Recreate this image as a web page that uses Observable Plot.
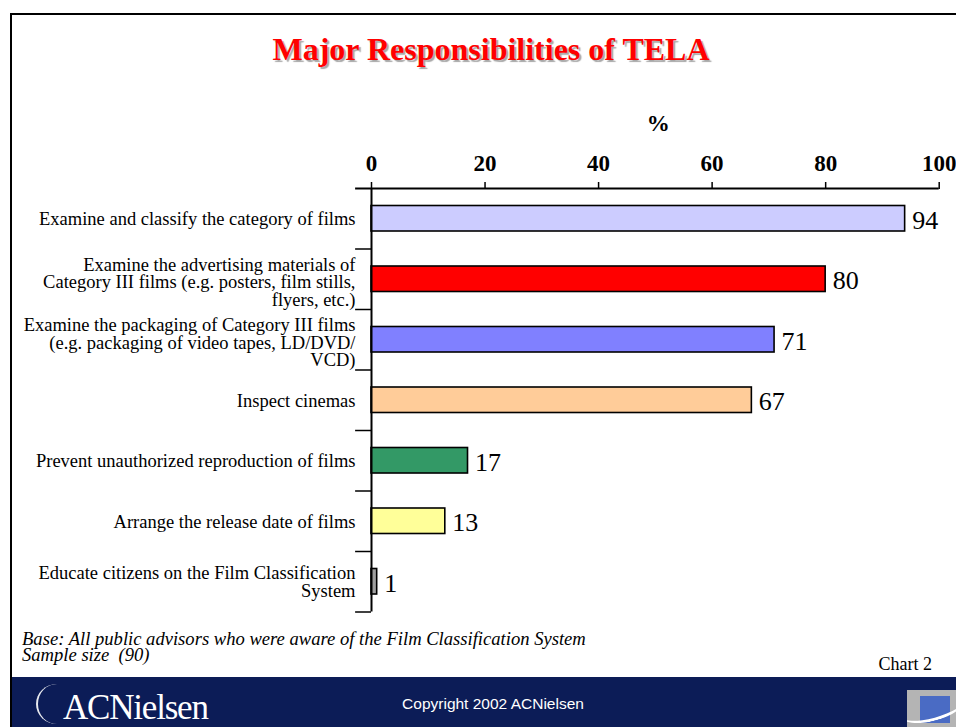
<!DOCTYPE html>
<html>
<head>
<meta charset="utf-8">
<script src="https://cdn.jsdelivr.net/npm/d3@7"></script>
<script src="https://cdn.jsdelivr.net/npm/@observablehq/plot@0.6"></script>
<style>
  body { margin: 0; background: #fff; }
  #page { position: relative; width: 956px; height: 727px; overflow: hidden; background: #fff;
          font-family: "Liberation Serif", "Times New Roman", serif; color: #000; }
  #chart { position: absolute; left: 0; top: 0; }
  .abs { position: absolute; white-space: nowrap; line-height: 1; }
  #title { left: 191px; width: 600px; top: 33px; text-align: center; font-size: 32px; font-weight: bold;
           color: #ff0000; text-shadow: 2px 2px 1px #a8a8a8; }
  #borderTop { position: absolute; left: 10px; top: 13px; width: 946px; height: 2px; background: #000; }
  #borderLeft { position: absolute; left: 10px; top: 13px; width: 2px; height: 714px; background: #000; }
  #note1 { left: 22px; top: 629.5px; font-size: 18.6px; font-style: italic; }
  #note2 { left: 22px; top: 645.5px; font-size: 18.6px; font-style: italic; }
  #chartno { right: 24px; top: 655px; font-size: 18px; }
  #footer { position: absolute; left: 12px; top: 677px; width: 944px; height: 50px; background: #0c1c57; }
  #copy { left: 293px; width: 400px; text-align: center; top: 696px; font-size: 15.5px; color: #fff;
          font-family: "Liberation Sans", Arial, sans-serif; }
  #logo { left: 63px; top: 690px; font-size: 35px; color: #fff; letter-spacing: -1.2px; }
  #swoosh { position: absolute; left: 36px; top: 684px; width: 40px; height: 40px; border-left: 2px solid #fff;
            border-radius: 50%; opacity: 0.9; }
  #icon { position: absolute; left: 907px; top: 690px; width: 49px; height: 37px; background: #b4b4b4; overflow: hidden; }
  #iconSq { position: absolute; left: 13px; top: 6px; width: 30px; height: 27px; background: #4a6bc4; }
  #iconArc { position: absolute; left: -8px; top: 4px; width: 66px; height: 24px; border-bottom: 3px solid #fff;
             border-radius: 50%; transform: rotate(-15deg); }
</style>
</head>
<body>
<div id="page">
  <div id="chart"></div>
  <div id="borderTop"></div>
  <div id="borderLeft"></div>
  <div id="title" class="abs">Major Responsibilities of TELA</div>
  <div id="note1" class="abs">Base: All public advisors who were aware of the Film Classification System</div>
  <div id="note2" class="abs">Sample size&nbsp; (90)</div>
  <div id="chartno" class="abs">Chart 2</div>
  <div id="footer"></div>
  <div id="swoosh"></div>
  <div id="logo" class="abs">ACNielsen</div>
  <div id="copy" class="abs">Copyright 2002 ACNielsen</div>
  <div id="icon"><div id="iconSq"></div><div id="iconArc"></div></div>
</div>
<script>
// ---- data ----
const categories = [
  "Examine and classify the category of films",
  "Examine the advertising materials of\nCategory III films (e.g. posters, film stills,\nflyers, etc.)",
  "Examine the packaging of Category III films\n(e.g. packaging of video tapes, LD/DVD/\nVCD)",
  "Inspect cinemas",
  "Prevent unauthorized reproduction of films",
  "Arrange the release date of films",
  "Educate citizens on the Film Classification\nSystem"
];
const values = [94, 80, 71, 67, 17, 13, 1];
const barColors = ["#ccccff", "#ff0000", "#8080ff", "#ffcc99", "#339966", "#ffff99", "#a0a0a0"];
const xTicks = [0, 20, 40, 60, 80, 100];
const axisLabel = "%";

const data = categories.map((c, i) => ({category: c, value: values[i]}));
const singleLine = data.filter(d => !d.category.includes("\n"));
const threeLine = data.filter(d => d.category.split("\n").length === 3);
const twoLine = data.filter(d => d.category.split("\n").length === 2);

// ---- layout ----
const W = 956, H = 640;
const mTop = 188, mBottom = 28.5, mLeft = 371, mRight = 17.3;
const step = (H - mTop - mBottom) / categories.length;
const tickStart = -2.8; // category tick marks extend left of the value axis

const labelStyle = {frameAnchor: "left", y: "category", text: "category", textAnchor: "end", dx: -16,
                    lineAnchor: "middle", lineHeight: 0.95, fontSize: 18.5};

const chart = Plot.plot({
  width: W,
  height: H,
  marginTop: mTop,
  marginBottom: mBottom,
  marginLeft: mLeft,
  marginRight: mRight,
  style: {background: "transparent", overflow: "visible", fontFamily: "Liberation Serif", color: "#000"},
  x: {domain: [0, 100]},
  y: {domain: categories, padding: 0, round: false, axis: null},
  color: {domain: categories, range: barColors},
  marks: [
    Plot.barX(data, {x: "value", y: "category", fill: "category", stroke: "#000", strokeWidth: 1.6,
                     insetTop: 17.5, insetBottom: 17.5}),
    Plot.ruleX([0], {stroke: "#000", strokeWidth: 2}),
    Plot.ruleY([categories[0]], {x1: tickStart, x2: 100, dy: -step / 2, stroke: "#000", strokeWidth: 2}),
    Plot.ruleY(categories.slice(1), {x1: tickStart, x2: 0, dy: -step / 2, stroke: "#000", strokeWidth: 1.5}),
    Plot.ruleY([categories[categories.length - 1]], {x1: tickStart, x2: 0, dy: step / 2, stroke: "#000", strokeWidth: 1.5}),
    Plot.axisX({anchor: "top", ticks: xTicks, tickSize: 7, tickPadding: 10.3, fontSize: 23, fontWeight: "bold",
                strokeWidth: 1.5, label: null, tickFormat: d => String(d)}),
    Plot.text([axisLabel], {frameAnchor: "top", text: d => d, lineAnchor: "bottom", dy: -57.5, dx: 3,
                            fontSize: 23, fontWeight: "bold"}),
    Plot.text(singleLine, {...labelStyle, dy: 1}),
    Plot.text(threeLine, {...labelStyle, dy: 3.5}),
    Plot.text(twoLine, {...labelStyle, dy: 0.5}),
    Plot.text(data, {x: "value", y: "category", text: d => String(d.value), textAnchor: "start", dx: 7, dy: 1.5,
                     lineAnchor: "middle", fontSize: 26})
  ]
});
document.getElementById("chart").appendChild(chart);
</script>
</body>
</html>
